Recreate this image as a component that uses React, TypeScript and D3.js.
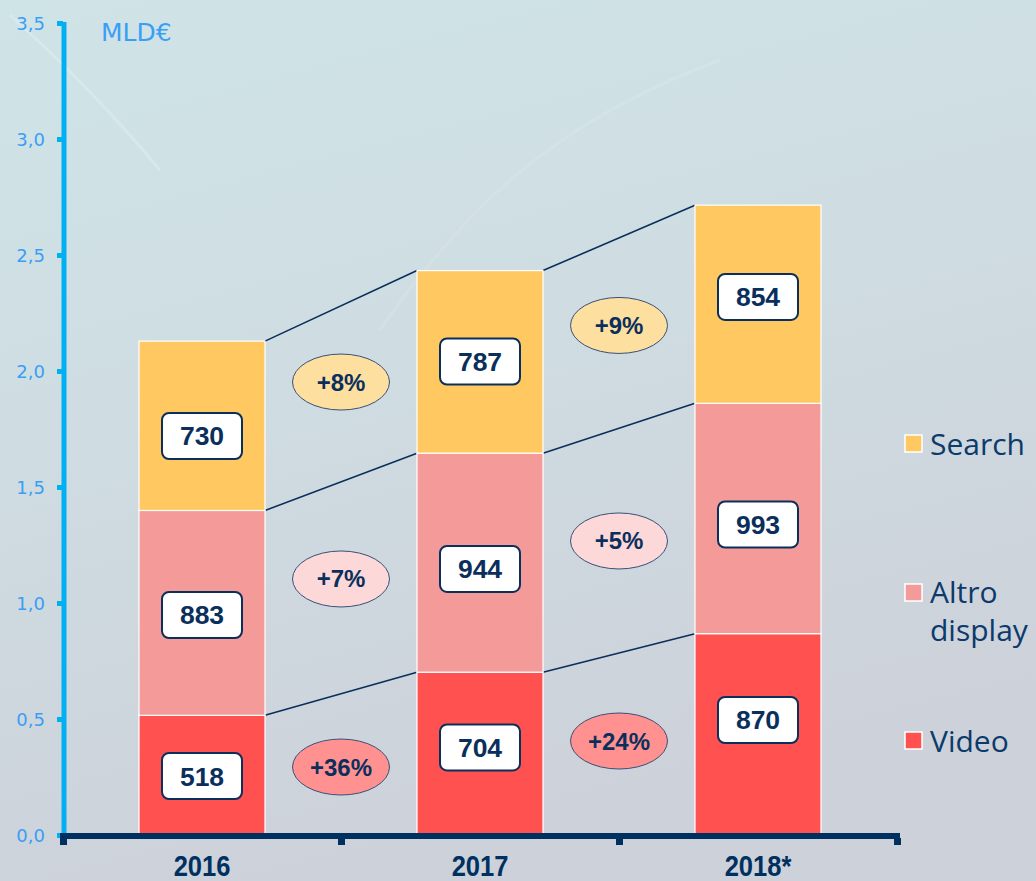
import React from "react";
import * as d3 from "d3";

const years = ["2016", "2017", "2018*"];
const seriesNames = ["Video", "Altro display", "Search"];
const video = [518, 704, 870];
const altro = [883, 944, 993];
const search = [730, 787, 854];
const growthVideo = ["+36%", "+24%"];
const growthAltro = ["+7%", "+5%"];
const growthSearch = ["+8%", "+9%"];
const yTicks = [0, 0.5, 1, 1.5, 2, 2.5, 3, 3.5];

// label placement nudges (pixels), layout only
const boxNudge: Record<string, number[]> = {
  Video: [0.6, -6.4, -14.6],
  "Altro display": [2.1, 6.3, 6],
  Search: [10.2, -0.4, -7.3],
};
const ellipseNudge: Record<string, number[]> = {
  Video: [2.4, -3.2],
  "Altro display": [-8.8, 0.4],
  Search: [-11.8, -7.6],
};

const W = 1036;
const H = 881;
const NAVY = "#0b2f5c";
const colors: Record<string, string> = {
  Video: "#ff5150",
  "Altro display": "#f49a98",
  Search: "#ffc860",
};
const ellipseColors: Record<string, string> = {
  Video: "#ff9290",
  "Altro display": "#fcd8d8",
  Search: "#fddf9f",
};

export default function App() {
  const y = d3.scaleLinear().domain([0, 3.5]).range([835.5, 23.5]);
  const x = d3.scaleBand<string>().domain(years).range([63, 897]).padding(0);
  const barW = 126;

  const rows = years.map((yr, i) => ({
    year: yr,
    Video: video[i] / 1000,
    "Altro display": altro[i] / 1000,
    Search: search[i] / 1000,
    raw: { Video: video[i], "Altro display": altro[i], Search: search[i] } as Record<string, number>,
  }));
  const stack = d3.stack<any>().keys(seriesNames);
  const layers = stack(rows);
  const growth: Record<string, string[]> = {
    Video: growthVideo,
    "Altro display": growthAltro,
    Search: growthSearch,
  };

  const cx = (yr: string) => (x(yr) as number) + x.bandwidth() / 2;

  return (
    <svg
      width={W}
      height={H}
      style={{ position: "absolute", left: 0, top: 0 }}
      xmlns="http://www.w3.org/2000/svg"
    >
      <defs>
        <linearGradient id="bg" x1="0" y1="0" x2="0.3" y2="1">
          <stop offset="0" stopColor="#cfe4e7" />
          <stop offset="0.45" stopColor="#cfdde2" />
          <stop offset="1" stopColor="#cdd1da" />
        </linearGradient>
      </defs>
      <rect x={0} y={0} width={W} height={H} fill="url(#bg)" />
      {/* faint decorative lines */}
      <path d="M10,15 C60,60 110,110 160,170" stroke="#ffffff" strokeOpacity={0.2} strokeWidth={3} fill="none" />
      <path d="M380,330 C470,200 560,120 720,60" stroke="#ffffff" strokeOpacity={0.1} strokeWidth={3} fill="none" />

      {/* connectors */}
      {layers.map((layer) =>
        layer.slice(0, -1).map((d, i) => {
          const next = layer[i + 1];
          return (
            <line
              key={layer.key + "c" + i}
              x1={cx(years[i]) + barW / 2}
              y1={y(d[1])}
              x2={cx(years[i + 1]) - barW / 2}
              y2={y(next[1])}
              stroke={NAVY}
              strokeWidth={1.6}
            />
          );
        })
      )}

      {/* bars */}
      {layers.map((layer) =>
        layer.map((d, i) => (
          <rect
            key={layer.key + i}
            x={cx(years[i]) - barW / 2}
            y={y(d[1])}
            width={barW}
            height={y(d[0]) - y(d[1])}
            fill={colors[layer.key]}
            stroke="#ffffff"
            strokeWidth={1.2}
          />
        ))
      )}

      {/* value boxes */}
      {layers.map((layer) =>
        layer.map((d, i) => {
          const my = (y(d[0]) + y(d[1])) / 2 + boxNudge[layer.key][i];
          const mx = cx(years[i]);
          return (
            <g key={layer.key + "v" + i}>
              <rect x={mx - 40} y={my - 23} width={80} height={46} rx={7} fill="#ffffff" stroke={NAVY} strokeWidth={2} />
              <text
                x={mx}
                y={my + 9.5}
                textAnchor="middle"
                fontFamily="'Liberation Sans', Arial, sans-serif"
                fontWeight="bold"
                fontSize={26.5}
                fill={NAVY}
              >
                {rows[i].raw[layer.key]}
              </text>
            </g>
          );
        })
      )}

      {/* growth ellipses */}
      {layers.map((layer) =>
        layer.slice(0, -1).map((d, i) => {
          const next = layer[i + 1];
          const my =
            ((y(d[0]) + y(d[1])) / 2 + (y(next[0]) + y(next[1])) / 2) / 2 + ellipseNudge[layer.key][i];
          const mx = (cx(years[i]) + cx(years[i + 1])) / 2;
          return (
            <g key={layer.key + "g" + i}>
              <ellipse cx={mx} cy={my} rx={48.5} ry={28} fill={ellipseColors[layer.key]} stroke="#3a4f78" strokeWidth={1} />
              <text
                x={mx}
                y={my + 8.5}
                textAnchor="middle"
                fontFamily="'Liberation Sans', Arial, sans-serif"
                fontWeight="bold"
                fontSize={24}
                fill={NAVY}
              >
                {growth[layer.key][i]}
              </text>
            </g>
          );
        })
      )}

      {/* y axis */}
      <line x1={64} x2={64} y1={y(3.5) - 1.5} y2={y(0)} stroke="#00b0f0" strokeWidth={5} />
      {yTicks.map((t) => (
        <g key={"yt" + t}>
          <rect x={57} y={y(t) - 2.5} width={6} height={5} fill="#00b0f0" />
          <text
            x={45}
            y={y(t) + 6.5}
            textAnchor="end"
            fontFamily="'DejaVu Sans', Verdana, sans-serif"
            fontSize={18}
            fill="#3a9ef5"
          >
            {d3.format(".1f")(t).replace(".", ",")}
          </text>
        </g>
      ))}
      <text x={101} y={40.5} fontFamily="'DejaVu Sans', Verdana, sans-serif" fontSize={25} fill="#3a9ef5">
        MLD€
      </text>

      {/* x axis */}
      <line x1={60} x2={900} y1={836} y2={836} stroke="#00305f" strokeWidth={6} />
      {[...years.map((yr) => x(yr) as number), 897].map((t, i) => (
        <rect key={"xt" + i} x={t - 3} y={838} width={7} height={7} fill="#00305f" />
      ))}
      {years.map((yr) => (
        <text
          key={"xl" + yr}
          transform={`translate(${cx(yr)},876) scale(0.88,1)`}
          textAnchor="middle"
          fontFamily="'Liberation Sans', Arial, sans-serif"
          fontWeight="bold"
          fontSize={29}
          fill="#00305f"
        >
          {yr}
        </text>
      ))}

      {/* legend */}
      {[
        { name: "Search", sq: 435, lines: ["Search"], base: 455 },
        { name: "Altro display", sq: 584, lines: ["Altro", "display"], base: 603 },
        { name: "Video", sq: 732, lines: ["Video"], base: 752 },
      ].map((l) => (
        <g key={"lg" + l.name}>
          <rect x={905} y={l.sq} width={17} height={17} fill={colors[l.name]} stroke="#ffffff" strokeWidth={1.5} />
          {l.lines.map((ln, k) => (
            <text
              key={ln}
              x={930}
              y={l.base + k * 38}
              fontFamily="'Open Sans', 'Noto Sans', sans-serif"
              fontSize={30}
              fill="#0b3a6b"
            >
              {ln}
            </text>
          ))}
        </g>
      ))}
    </svg>
  );
}
